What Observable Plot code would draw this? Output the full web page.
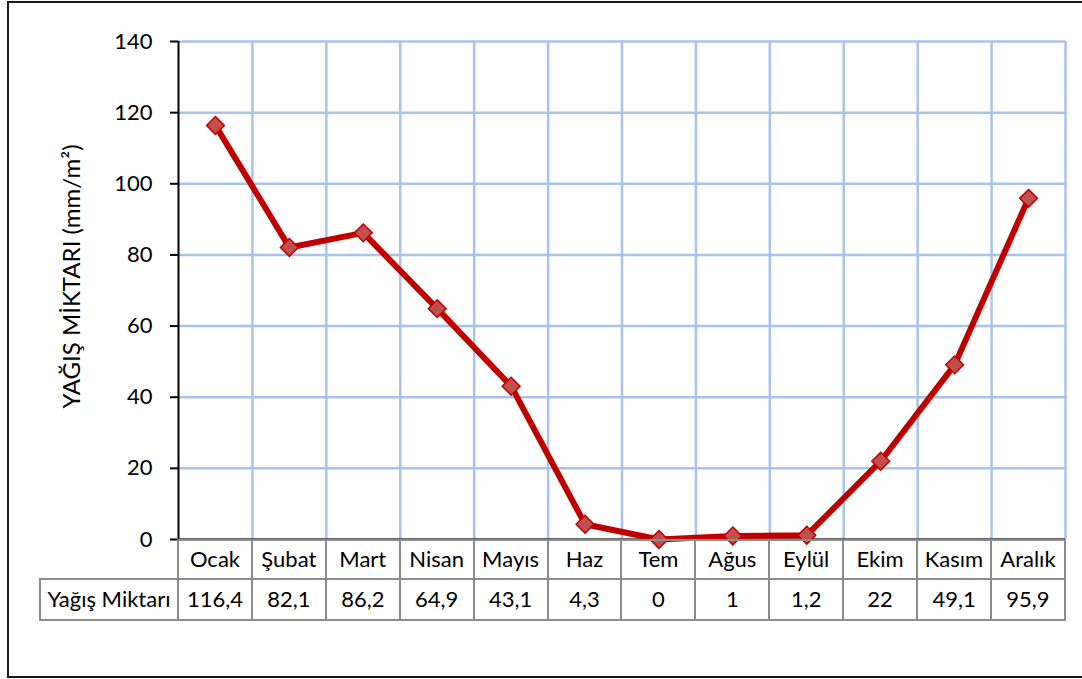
<!DOCTYPE html>
<html>
<head>
<meta charset="utf-8">
<script src="https://cdn.jsdelivr.net/npm/d3@7"></script>
<script src="https://cdn.jsdelivr.net/npm/@observablehq/plot@0.6"></script>
<style>
  html, body { margin: 0; padding: 0; background: #fff; }
  #wrap { position: relative; width: 1082px; height: 679px; overflow: hidden; font-family: Lato, "Noto Sans", sans-serif; }
  #frame { position: absolute; left: 7px; top: 1px; width: 1100px; height: 677px; border: 2px solid #1a1a1a; box-sizing: border-box; }
  #chart { position: absolute; left: 0; top: 0; }
  #tbl { position: absolute; left: 39px; top: 539px; border-collapse: collapse; table-layout: fixed; font-family: Lato, sans-serif; font-size: 22px; color: #000; }
  #tbl td { border: 2px solid #8c8c8c; text-align: center; padding: 0; white-space: nowrap; }
  #tbl tr.h td { height: 35px; padding-bottom: 2px; }
  #tbl tr.v td { height: 36px; padding-bottom: 3px; }
  #tbl td.blank { border: none; }
</style>
</head>
<body>
<div id="wrap">
  <div id="frame"></div>
  <div id="chart"></div>
  <table id="tbl"></table>
</div>
<script>
const months = ["Ocak", "Şubat", "Mart", "Nisan", "Mayıs", "Haz", "Tem", "Ağus", "Eylül", "Ekim", "Kasım", "Aralık"];
const rain = [116.4, 82.1, 86.2, 64.9, 43.1, 4.3, 0, 1, 1.2, 22, 49.1, 95.9];
const yTicks = [0, 20, 40, 60, 80, 100, 120, 140];
const seriesName = "Yağış Miktarı";
const yTitle = "YAĞIŞ MİKTARI (mm/m²)";

const data = months.map((m, i) => ({month: m, idx: i, value: rain[i]}));
const bounds = d3.range(1, months.length + 1);
const grid = "#a9c3eb";

const plot = Plot.plot({
  width: 1082,
  height: 540,
  marginLeft: 178,
  marginRight: 17,
  marginTop: 41,
  marginBottom: 1,
  x: {domain: [0, months.length], axis: null},
  y: {domain: [0, 140], ticks: yTicks},
  style: {fontFamily: "Lato, sans-serif", background: "transparent", overflow: "visible"},
  marks: [
    Plot.ruleY(yTicks.filter(t => t > 0), {stroke: grid, strokeWidth: 2.5}),
    Plot.ruleX(bounds, {stroke: grid, strokeWidth: 2.5}),
    Plot.ruleX([0], {stroke: "#000", strokeWidth: 2}),
    Plot.ruleY([0], {stroke: "#333", strokeWidth: 2.5}),
    Plot.axisY({ticks: yTicks, tickSize: 8, tickPadding: 18, fontSize: 22, strokeWidth: 2, stroke: "#000", color: "#000", label: null}),
    Plot.text([yTitle], {frameAnchor: "left", textAnchor: "middle", rotate: -90, dx: -106, dy: -14, fontSize: 24, fill: "#000"}),
    Plot.line(data, {x: d => d.idx + 0.5, y: "value", stroke: "#c00000", strokeWidth: 6, strokeLinejoin: "round"}),
    Plot.dot(data, {x: d => d.idx + 0.5, y: "value", symbol: "diamond2", r: 8, fill: "#c0504d", stroke: "#c00000", strokeWidth: 1.5})
  ]
});
document.getElementById("chart").appendChild(plot);

// data table
const tbl = document.getElementById("tbl");
const colW = (1065 - 178) / months.length;
const cg = document.createElement("colgroup");
const c0 = document.createElement("col"); c0.style.width = (178 - 40) + "px"; cg.appendChild(c0);
months.forEach(() => { const c = document.createElement("col"); c.style.width = colW + "px"; cg.appendChild(c); });
tbl.appendChild(cg);
const trh = document.createElement("tr"); trh.className = "h";
const tdb = document.createElement("td"); tdb.className = "blank"; trh.appendChild(tdb);
months.forEach(m => { const td = document.createElement("td"); td.textContent = m; trh.appendChild(td); });
tbl.appendChild(trh);
const trv = document.createElement("tr"); trv.className = "v";
const tdl = document.createElement("td"); tdl.textContent = seriesName; trv.appendChild(tdl);
rain.forEach(v => { const td = document.createElement("td"); td.textContent = String(v).replace(".", ","); trv.appendChild(td); });
tbl.appendChild(trv);
</script>
</body>
</html>
